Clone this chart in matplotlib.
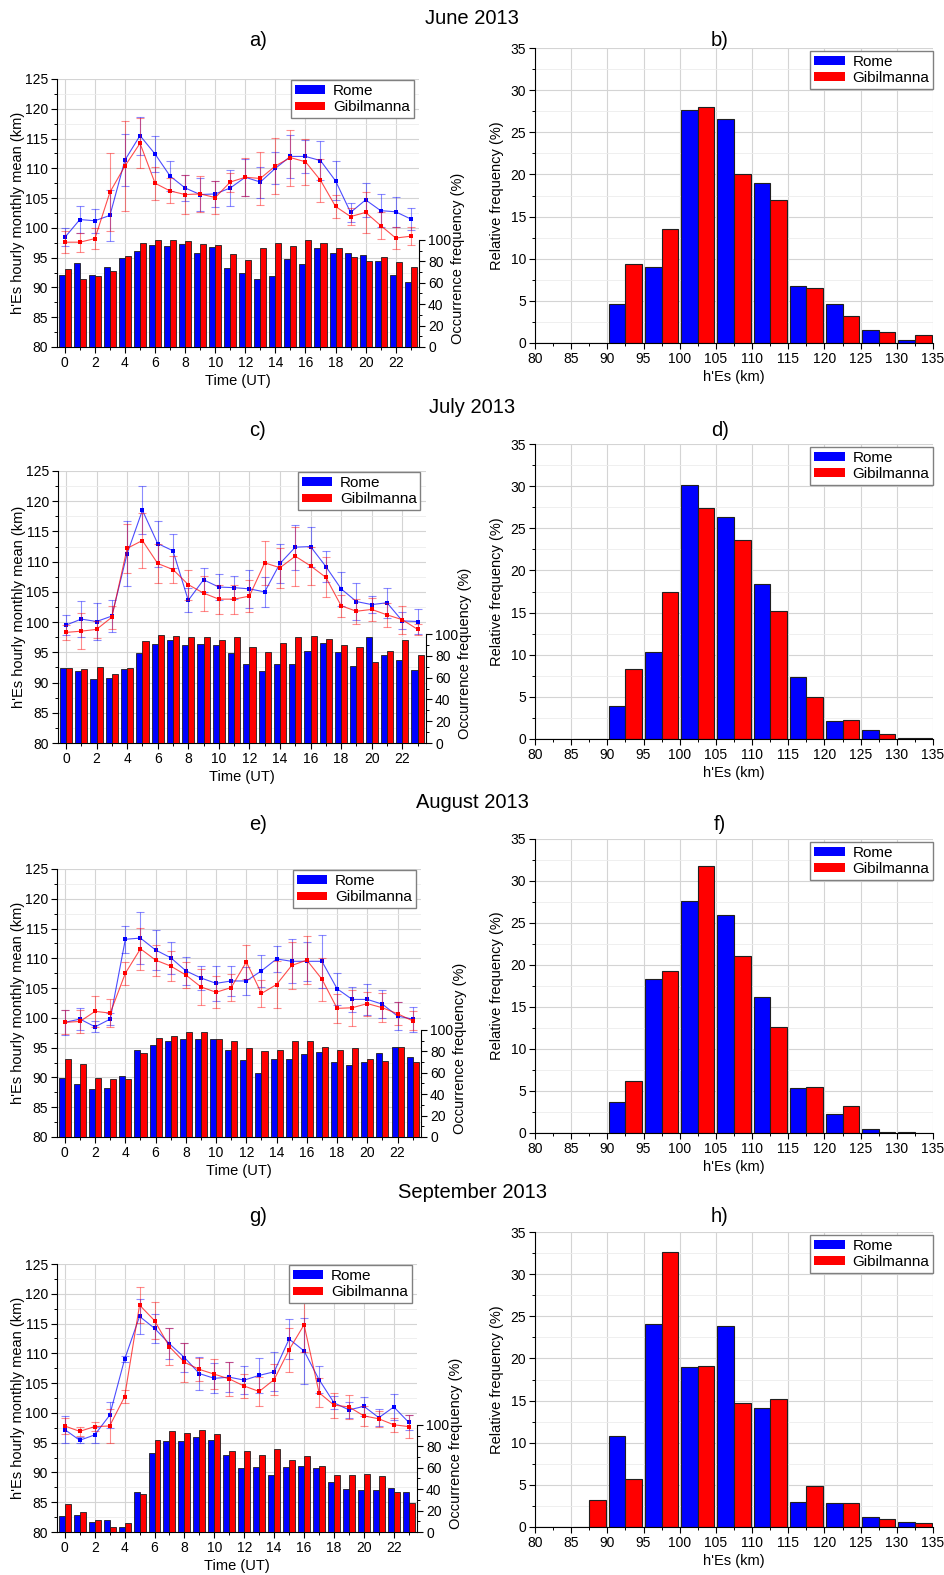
import numpy as np
import matplotlib
matplotlib.use("Agg")
import matplotlib.pyplot as plt
from matplotlib.patches import Patch
from matplotlib.ticker import MultipleLocator

plt.rcParams['font.family'] = ['Liberation Sans', 'DejaVu Sans']

hours = list(range(24))
bins = [80, 85, 90, 95, 100, 105, 110, 115, 120, 125, 130]
months = ["June 2013", "July 2013", "August 2013", "September 2013"]
letters = [("a)", "b)"), ("c)", "d)"), ("e)", "f)"), ("g)", "h)")]

# ---- June 2013 ----
jun_rome_h = [98.4, 101.4, 101.2, 102.1, 111.4, 115.5, 112.4, 108.7, 106.7, 105.6, 105.7, 106.7,
              108.5, 107.7, 110.0, 112.0, 112.0, 111.3, 107.9, 102.6, 104.7, 102.9, 102.7, 101.5]
jun_rome_err = [1.5, 2.2, 2.0, 4.3, 4.4, 3.2, 3.0, 2.5, 2.2, 2.8, 2.2, 3.1,
                3.1, 2.6, 2.7, 3.6, 2.8, 3.3, 3.3, 1.6, 2.8, 2.8, 2.5, 1.8]
jun_gib_h = [97.6, 97.6, 98.2, 106.0, 110.4, 114.2, 107.5, 106.2, 105.6, 105.7, 105.1, 107.7,
             108.5, 108.3, 110.4, 111.8, 111.1, 108.0, 103.6, 101.9, 102.6, 100.4, 98.3, 98.6]
jun_gib_err = [1.8, 1.6, 1.8, 6.6, 7.5, 4.2, 2.8, 2.1, 3.2, 3.0, 2.8, 1.6,
               3.2, 4.5, 4.7, 4.7, 3.9, 3.6, 1.9, 1.4, 3.4, 2.3, 1.8, 1.5]
jun_rome_occ = [67, 78, 67, 75, 83, 90, 95, 94, 96, 88, 93, 74,
                69, 63, 66, 82, 77, 92, 88, 88, 86, 80, 67, 61]
jun_gib_occ = [73, 63, 66, 71, 85, 97, 100, 100, 99, 96, 95, 87,
               81, 92, 97, 94, 100, 97, 92, 84, 80, 84, 79, 75]
jun_rome_hist = [0, 0, 4.67, 8.98, 27.6, 26.57, 18.94, 6.8, 4.63, 1.54, 0.32]
jun_gib_hist = [0, 0, 9.37, 13.48, 28.03, 20.0, 17.0, 6.52, 3.16, 1.30, 0.99]

# ---- July 2013 ----
jul_rome_h = [99.5, 100.5, 100.1, 101.0, 111.3, 118.5, 113.0, 111.8, 103.6, 107.0, 105.8, 105.7,
              105.5, 105.0, 109.7, 112.4, 112.5, 109.2, 105.5, 103.4, 102.9, 103.2, 100.2, 100.1]
jul_rome_err = [1.7, 3.0, 3.1, 2.7, 5.4, 4.0, 3.8, 2.8, 2.0, 2.0, 2.2, 1.9,
                3.2, 2.5, 3.2, 3.7, 3.3, 2.5, 2.8, 3.0, 1.4, 2.5, 1.4, 2.1]
jul_gib_h = [98.3, 98.5, 98.8, 100.8, 112.2, 113.5, 109.7, 108.7, 106.2, 104.8, 103.8, 103.8,
             104.3, 109.8, 109.0, 110.9, 109.3, 107.4, 102.7, 101.8, 102.1, 101.2, 100.4, 98.8]
jul_gib_err = [1.3, 3.0, 1.4, 1.9, 4.1, 4.6, 3.3, 2.3, 2.5, 2.9, 2.4, 2.4,
               2.7, 3.7, 3.3, 4.9, 3.1, 3.3, 1.8, 2.1, 1.9, 2.0, 2.3, 0.9]
jul_rome_occ = [69, 66, 59, 60, 68, 83, 91, 95, 90, 91, 90, 83,
                73, 66, 73, 73, 85, 92, 84, 71, 97, 81, 76, 67]
jul_gib_occ = [69, 68, 70, 63, 69, 94, 99, 98, 97, 97, 95, 97,
               88, 84, 92, 97, 98, 96, 90, 88, 74, 85, 95, 81]
jul_rome_hist = [0, 0, 3.88, 10.32, 30.17, 26.3, 18.35, 7.35, 2.14, 1.07, 0.12]
jul_gib_hist = [0, 0, 8.26, 17.4, 27.44, 23.57, 15.14, 4.94, 2.21, 0.63, 0.16]

# ---- August 2013 ----
aug_rome_h = [99.25, 99.8, 98.5, 99.8, 113.2, 113.4, 111.4, 110.1, 107.9, 106.7, 105.8, 106.2,
              106.2, 107.9, 109.9, 109.5, 109.5, 109.5, 104.9, 103.1, 103.1, 102.3, 100.3, 99.8]
aug_rome_err = [2.1, 1.9, 0.9, 1.0, 2.3, 4.4, 3.4, 2.7, 2.3, 2.0, 2.9, 2.5,
                2.4, 2.7, 2.2, 3.7, 3.3, 4.5, 2.7, 2.1, 2.6, 2.4, 2.3, 2.1]
aug_gib_h = [99.25, 99.4, 101.1, 100.8, 107.5, 111.6, 109.7, 108.7, 107.2, 105.2, 104.3, 105.1,
             109.4, 104.1, 105.6, 108.8, 109.7, 106.5, 101.6, 101.7, 102.4, 101.7, 100.7, 99.5]
aug_gib_err = [2.0, 2.0, 2.6, 2.4, 1.9, 3.5, 2.6, 2.5, 2.2, 3.0, 2.7, 2.2,
               2.8, 2.3, 4.0, 3.9, 4.0, 3.6, 2.4, 3.0, 2.0, 2.4, 1.9, 1.6]
aug_rome_occ = [55, 49, 45, 46, 57, 81, 86, 90, 91, 91, 91, 81,
                72, 60, 73, 73, 77, 79, 70, 67, 70, 78, 84, 75]
aug_gib_occ = [73, 68, 55, 54, 54, 78, 92, 94, 98, 98, 91, 90,
               83, 80, 81, 90, 90, 84, 81, 83, 73, 71, 84, 70]
aug_rome_hist = [0, 0, 3.64, 18.29, 27.67, 25.93, 16.23, 5.38, 2.30, 0.44, 0.12]
aug_gib_hist = [0, 0, 6.25, 19.28, 31.83, 21.1, 12.59, 5.5, 3.2, 0.12, 0]

# ---- September 2013 ----
sep_rome_h = [97.2, 95.4, 96.3, 99.6, 109.0, 116.2, 114.2, 111.6, 109.3, 106.6, 105.8, 106.0,
              105.5, 106.3, 106.9, 112.4, 110.4, 105.6, 101.7, 100.5, 101.1, 99.2, 101.0, 98.4]
sep_rome_err = [2.2, 0.5, 1.4, 2.2, 0.5, 2.9, 2.4, 2.6, 2.5, 2.8, 2.5, 2.5,
                2.4, 2.9, 3.3, 3.3, 5.5, 2.2, 1.1, 1.4, 1.6, 1.4, 2.2, 1.2]
sep_gib_h = [97.8, 96.9, 97.7, 97.8, 102.7, 118.1, 115.5, 111.1, 108.5, 107.3, 106.5, 105.7,
             104.5, 103.6, 105.6, 110.6, 114.8, 103.4, 101.3, 101.0, 99.5, 99.0, 98.0, 97.7]
sep_gib_err = [1.3, 0.7, 0.8, 2.8, 1.1, 3.0, 3.1, 3.1, 3.3, 2.0, 2.5, 2.8,
               2.0, 2.4, 2.6, 3.7, 4.6, 2.4, 2.1, 2.0, 1.7, 1.3, 1.2, 1.9]
sep_rome_occ = [15, 16, 9, 11, 5, 37, 74, 85, 85, 89, 86, 72,
                60, 61, 53, 61, 62, 60, 47, 40, 39, 39, 41, 37]
sep_gib_occ = [26, 19, 11, 5, 8, 35, 86, 94, 92, 95, 91, 76,
               76, 72, 77, 67, 71, 62, 53, 53, 54, 52, 37, 27]
sep_rome_hist = [0, 0, 10.81, 24.11, 19.0, 23.83, 14.13, 3.01, 2.85, 1.19, 0.63]
sep_gib_hist = [0, 3.17, 5.66, 32.58, 19.12, 14.69, 15.24, 4.83, 2.85, 0.91, 0.51]

ROME = '#0000ff'
GIB = '#ff0000'
W, H = 944, 1575

fig = plt.figure(figsize=(W / 100, H / 100), dpi=100)


def px_rect(x0, x1, top, bottom):
    return [x0 / W, 1 - bottom / H, (x1 - x0) / W, (bottom - top) / H]


def style_ticks(ax):
    ax.tick_params(which='major', direction='out', length=4, width=0.8, labelsize=10, pad=2.5)
    ax.tick_params(which='minor', direction='out', length=2.5, width=0.7)


def make_legend(ax, loc_anchor):
    handles = [Patch(facecolor=ROME, edgecolor='none', label='Rome'),
               Patch(facecolor=GIB, edgecolor='none', label='Gibilmanna')]
    leg = ax.legend(handles=handles, loc='upper right', bbox_to_anchor=loc_anchor,
                    fontsize=11, fancybox=False, framealpha=1, edgecolor='#808080',
                    handlelength=2.0, handleheight=0.5, handletextpad=0.5,
                    borderpad=0.25, labelspacing=0.15, borderaxespad=0)
    leg.get_frame().set_linewidth(1.0)


def draw_hourly(rect, rome_h, rome_err, gib_h, gib_err, rome_occ, gib_occ):
    x = np.array(hours)
    ax = fig.add_axes(rect)
    ax_bar = ax.twinx()
    ax_line = ax.twinx()

    # background axis: grid, left scale and time axis
    ax.set_xlim(-0.52, 23.55)
    ax.set_ylim(80, 125)
    ax.xaxis.set_major_locator(MultipleLocator(2))
    ax.xaxis.set_minor_locator(MultipleLocator(1))
    ax.yaxis.set_major_locator(MultipleLocator(5))
    ax.yaxis.set_minor_locator(MultipleLocator(2.5))
    ax.grid(which='major', color='#d4d4d4', lw=0.8)
    ax.grid(which='minor', axis='y', color='#ececec', lw=0.6)
    ax.set_axisbelow(True)
    for s in ['top', 'right']:
        ax.spines[s].set_visible(False)
    style_ticks(ax)
    ax.set_ylabel("h'Es hourly monthly mean (km)", fontsize=10.5)
    ax.yaxis.set_label_coords(-0.088, 0.5)
    ax.set_xlabel("Time (UT)", fontsize=10.5, labelpad=3)

    # occurrence bars on the right scale
    ax_bar.bar(x - 0.2, rome_occ, width=0.4, color=ROME, edgecolor='#202020', lw=0.6)
    ax_bar.bar(x + 0.2, gib_occ, width=0.4, color=GIB, edgecolor='#202020', lw=0.6)
    ax_bar.set_ylim(0, 250)
    ax_bar.set_yticks([0, 20, 40, 60, 80, 100])
    ax_bar.set_yticks(np.arange(10, 100, 20), minor=True)
    for s in ['top', 'left', 'bottom']:
        ax_bar.spines[s].set_visible(False)
    ax_bar.spines['right'].set_bounds(0, 100)
    style_ticks(ax_bar)
    ax_bar.set_ylabel("Occurrence frequency (%)", fontsize=10.5)
    ax_bar.yaxis.set_label_coords(1.088, 0.33)

    # hourly means with error bars on top
    ax_line.set_ylim(80, 125)
    ax_line.set_axis_off()
    for h, e, c in [(rome_h, rome_err, ROME), (gib_h, gib_err, GIB)]:
        ax_line.errorbar(x, h, yerr=e, fmt='none', ecolor=c, alpha=0.45,
                         elinewidth=0.8, capsize=3, capthick=0.8)
        ax_line.plot(x, h, '-', color=c, lw=0.8, alpha=0.7)
        ax_line.plot(x, h, 's', color=c, ms=3.2, mew=0)
    ax_line.set_xlim(ax.get_xlim())
    make_legend(ax_line, (0.985, 0.995))


def draw_hist(rect, rome, gib):
    left = np.array(bins)
    ax = fig.add_axes(rect)
    ax.bar(left + 0.2, rome, width=2.3, align='edge', color=ROME, edgecolor='#202020', lw=0.8)
    ax.bar(left + 2.5, gib, width=2.3, align='edge', color=GIB, edgecolor='#202020', lw=0.8)
    ax.set_xlim(80, 135)
    ax.set_ylim(0, 35)
    ax.xaxis.set_major_locator(MultipleLocator(5))
    ax.xaxis.set_minor_locator(MultipleLocator(2.5))
    ax.yaxis.set_major_locator(MultipleLocator(5))
    ax.yaxis.set_minor_locator(MultipleLocator(2.5))
    ax.grid(which='major', color='#d4d4d4', lw=0.8)
    ax.grid(which='minor', axis='y', color='#ececec', lw=0.6)
    ax.set_axisbelow(True)
    for s in ['top', 'right']:
        ax.spines[s].set_visible(False)
    style_ticks(ax)
    ax.set_ylabel("Relative frequency (%)", fontsize=10.5)
    ax.yaxis.set_label_coords(-0.078, 0.5)
    ax.set_xlabel("h'Es (km)", fontsize=10.5, labelpad=3)
    make_legend(ax, (1.0, 0.99))


rows = [
    (jun_rome_h, jun_rome_err, jun_gib_h, jun_gib_err, jun_rome_occ, jun_gib_occ, jun_rome_hist, jun_gib_hist),
    (jul_rome_h, jul_rome_err, jul_gib_h, jul_gib_err, jul_rome_occ, jul_gib_occ, jul_rome_hist, jul_gib_hist),
    (aug_rome_h, aug_rome_err, aug_gib_h, aug_gib_err, aug_rome_occ, aug_gib_occ, aug_rome_hist, aug_gib_hist),
    (sep_rome_h, sep_rome_err, sep_gib_h, sep_gib_err, sep_rome_occ, sep_gib_occ, sep_rome_hist, sep_gib_hist),
]

# pixel layout of each row
left_boxes = [(57, 419, 79, 347), (58, 426, 471, 743), (57, 421, 869, 1137), (57, 417, 1264, 1532)]
right_boxes = [(48, 343), (444, 739), (839, 1133), (1232, 1527)]
title_y = [18, 408, 802, 1193]
letter_y = [40, 431, 825, 1216]

for i, r in enumerate(rows):
    draw_hourly(px_rect(*left_boxes[i]), *r[:6])
    draw_hist(px_rect(535, 933, *right_boxes[i]), r[6], r[7])
    fig.text(472 / W, 1 - title_y[i] / H, months[i], ha='center', va='center', fontsize=14.5)
    fig.text(258 / W, 1 - letter_y[i] / H, letters[i][0], ha='center', va='center', fontsize=14.5)
    fig.text(720 / W, 1 - letter_y[i] / H, letters[i][1], ha='center', va='center', fontsize=14.5)

fig.savefig("out.png", dpi=100)
